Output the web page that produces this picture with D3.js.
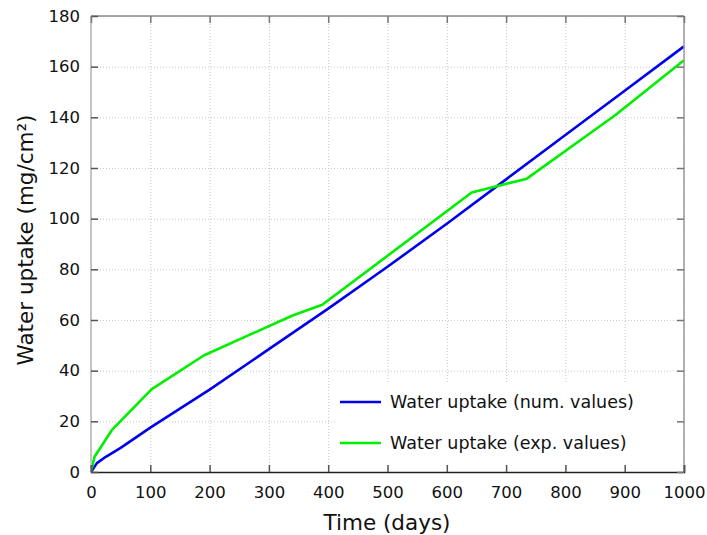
<!DOCTYPE html>
<html>
<head>
<meta charset="utf-8">
<script src="https://cdn.jsdelivr.net/npm/d3@7"></script>
<style>
  body { margin: 0; background: #fff; }
  svg { font-family: "DejaVu Sans", sans-serif; }
</style>
</head>
<body>
<svg id="chart" width="707" height="535"></svg>
<script>
// data
const numDays = [0, 10, 25, 50, 100, 200, 300, 400, 500, 600, 700, 800, 900, 1000];
const numUptake = [0, 3.5, 6, 9.5, 17.5, 32.5, 48.5, 64.5, 81, 98, 115.5, 133, 150.5, 168];
const expDays = [0, 6, 35, 102, 190, 340, 390, 642, 735, 885, 1000];
const expUptake = [0, 6, 16.5, 32.6, 46, 61.8, 66, 110.3, 115.8, 141, 162.5];
const xTicks = [0, 100, 200, 300, 400, 500, 600, 700, 800, 900, 1000];
const yTicks = [0, 20, 40, 60, 80, 100, 120, 140, 160, 180];
const seriesNames = ["Water uptake (num. values)", "Water uptake (exp. values)"];
const seriesColors = ["#0000ee", "#00ee00"];

const plotLeft = 91, plotRight = 684, plotTop = 16, plotBottom = 472;
const svg = d3.select('#chart');

const x = d3.scaleLinear().domain([0, 1000]).range([plotLeft, plotRight]);
const y = d3.scaleLinear().domain([0, 180]).range([plotBottom, plotTop]);

/* grid */
svg.append('g')
    .attr('transform', `translate(0,${plotBottom})`)
    .call(d3.axisBottom(x).tickValues(xTicks).tickSize(-(plotBottom - plotTop)).tickFormat(''))
    .call(g => g.select('.domain').remove())
    .selectAll('line')
    .attr('stroke', '#c8c8c8').attr('stroke-dasharray', '1,2');
svg.append('g')
    .attr('transform', `translate(${plotLeft},0)`)
    .call(d3.axisLeft(y).tickValues(yTicks).tickSize(-(plotRight - plotLeft)).tickFormat(''))
    .call(g => g.select('.domain').remove())
    .selectAll('line')
    .attr('stroke', '#c8c8c8').attr('stroke-dasharray', '1,2');

/* lines */
const line = d3.line().x(d => x(d[0])).y(d => y(d[1]));
const series = [
    d3.zip(numDays, numUptake),
    d3.zip(expDays, expUptake)
];
series.forEach((s, i) => {
    svg.append('path')
        .datum(s)
        .attr('fill', 'none')
        .attr('stroke', seriesColors[i])
        .attr('stroke-width', 2.6)
        .attr('stroke-linejoin', 'round')
        .attr('d', line);
});

/* legend */
svg.append('rect')
    .attr('x', 336).attr('y', 383).attr('width', 341).attr('height', 82)
    .attr('fill', '#fff');
seriesNames.forEach((name, i) => {
    const ly = 402 + i * 41;
    svg.append('line')
        .attr('x1', 340).attr('x2', 381).attr('y1', ly).attr('y2', ly)
        .attr('stroke', seriesColors[i]).attr('stroke-width', 2.6);
    svg.append('text')
        .attr('x', 390).attr('y', ly).attr('dy', '0.35em')
        .attr('font-size', 17.5).attr('fill', '#111')
        .text(name);
});

/* frame */
svg.append('line').attr('x1', plotLeft).attr('x2', plotLeft).attr('y1', plotTop).attr('y2', plotBottom)
    .attr('stroke', '#c4c4c4').attr('stroke-width', 2);
svg.append('line').attr('x1', plotLeft).attr('x2', plotRight).attr('y1', plotTop).attr('y2', plotTop)
    .attr('stroke', '#8a8a8a').attr('stroke-width', 1.5);
svg.append('line').attr('x1', plotRight).attr('x2', plotRight).attr('y1', plotTop).attr('y2', plotBottom)
    .attr('stroke', '#9a9a9a').attr('stroke-width', 1.5);

/* axes */
const xAxis = svg.append('g')
    .attr('transform', `translate(0,${plotBottom})`)
    .call(d3.axisBottom(x).tickValues(xTicks).tickSize(-7).tickPadding(14).tickFormat(d3.format('d')));
xAxis.select('.domain').attr('stroke', '#222').attr('stroke-width', 1.5);
xAxis.selectAll('line').attr('stroke', '#555').attr('stroke-width', 1.5);
xAxis.selectAll('text').attr('font-size', 16.5).attr('fill', '#111').attr('font-family', 'DejaVu Sans');

const yAxis = svg.append('g')
    .attr('transform', `translate(${plotLeft},0)`)
    .call(d3.axisLeft(y).tickValues(yTicks).tickSize(-7).tickPadding(11).tickFormat(d3.format('d')));
yAxis.select('.domain').remove();
yAxis.selectAll('line').attr('stroke', '#555').attr('stroke-width', 1.5);
yAxis.selectAll('text').attr('font-size', 16.5).attr('fill', '#111').attr('font-family', 'DejaVu Sans');

/* mirrored ticks on top and right */
svg.append('g')
    .attr('transform', `translate(0,${plotTop})`)
    .call(d3.axisTop(x).tickValues(xTicks).tickSize(-7).tickFormat(''))
    .call(g => g.select('.domain').remove())
    .selectAll('line').attr('stroke', '#777').attr('stroke-width', 1.5);
svg.append('g')
    .attr('transform', `translate(${plotRight},0)`)
    .call(d3.axisRight(y).tickValues(yTicks).tickSize(-7).tickFormat(''))
    .call(g => g.select('.domain').remove())
    .selectAll('line').attr('stroke', '#777').attr('stroke-width', 1.5);

/* axis titles */
svg.append('text')
    .attr('x', 387).attr('y', 530)
    .attr('text-anchor', 'middle')
    .attr('font-size', 21.5).attr('fill', '#111')
    .text('Time (days)');
svg.append('text')
    .attr('transform', `translate(33,${(plotTop + plotBottom) / 2 - 4}) rotate(-90)`)
    .attr('text-anchor', 'middle')
    .attr('font-size', 21.5).attr('fill', '#111')
    .text('Water uptake (mg/cm²)');
</script>
</body>
</html>
